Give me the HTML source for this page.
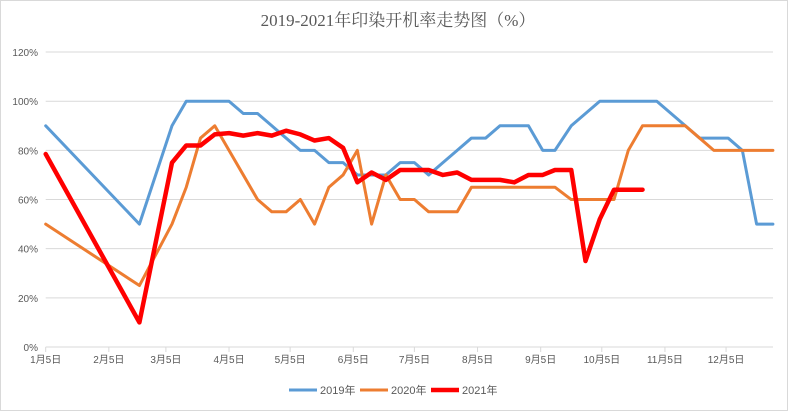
<!DOCTYPE html>
<html><head><meta charset="utf-8"><style>
html,body{margin:0;padding:0;background:#fff;}
svg{display:block;font-family:"Liberation Sans","Noto Sans CJK SC",sans-serif;}
</style></head><body>
<svg id="chart" width="788" height="411" viewBox="0 0 788 411" xmlns="http://www.w3.org/2000/svg">
<rect x="0.5" y="0.5" width="787" height="410" fill="#fff" stroke="#d9d9d9"/>
<text x="398" y="26" text-anchor="middle" font-size="17" fill="#595959" font-family="'Liberation Serif','Noto Serif CJK SC',serif">2019-2021年印染开机率走势图（%）</text>
<g id="grid"></g><g id="axes"></g><g id="series"></g>
<g>
<g><line x1="289" y1="390" x2="317" y2="390" stroke="#5b9bd5" stroke-width="3"/><text x="320" y="394" font-size="11" fill="#595959">2019年</text></g>
<g><line x1="360" y1="390" x2="388" y2="390" stroke="#ed7d31" stroke-width="3"/><text x="391" y="394" font-size="11" fill="#595959">2020年</text></g>
<g><line x1="431" y1="390" x2="459" y2="390" stroke="#ff0000" stroke-width="4.5"/><text x="462" y="394" font-size="11" fill="#595959">2021年</text></g>
</g>
</svg>
<script>
// x: days since Jan 5
const days2019 = [0,46,62,69,90,97,104,111,118,125,132,139,146,153,160,167,174,181,188,195,202,209,216,223,230,237,244,250,258,265,272,300,314,321,335,342,349,357];
const vals2019 = [90,50,90,100,100,95,95,90,85,80,80,75,75,70,70,70,75,75,70,75,80,85,85,90,90,90,80,80,90,95,100,100,90,85,85,80,50,50];
const days2020 = [0,46,62,69,76,83,90,97,104,111,118,125,132,139,146,153,160,167,174,181,188,195,202,209,216,223,230,237,244,250,258,265,272,279,286,293,300,307,314,321,328,335,342,349,357];
const vals2020 = [50,25,50,65,85,90,80,70,60,55,55,60,50,65,70,80,50,70,60,60,55,55,55,65,65,65,65,65,65,65,60,60,60,60,80,90,90,90,90,85,80,80,80,80,80];
const days2021 = [0,46,62,69,76,83,90,97,104,111,118,125,132,139,146,153,160,167,174,181,188,195,202,209,216,223,230,237,244,250,258,265,272,279,286,293];
const vals2021 = [78.5,10,75,82,82,86.5,87,86,87,86,88,86.5,84,85,81,67,71,68,72,72,72,70,71,68,68,68,67,70,70,72,72,35,52,64,64,64];
const yTicks = [0,20,40,60,80,100,120];
const xTickLabels = ["1月5日","2月5日","3月5日","4月5日","5月5日","6月5日","7月5日","8月5日","9月5日","10月5日","11月5日","12月5日"];
const xTickDays = [0,31,59,90,120,151,181,212,243,273,304,334];

const X0=45.7, PXD=2.037, Y0=347, PXV=2.458, XEND=773;
const xs = d => X0 + d*PXD;
const ys = v => Y0 - v*PXV;
const NS="http://www.w3.org/2000/svg";
function mk(tag, attrs, parent){const e=document.createElementNS(NS,tag);for(const k in attrs)e.setAttribute(k,attrs[k]);parent.appendChild(e);return e;}
const grid=document.getElementById('grid'), axes=document.getElementById('axes'), series=document.getElementById('series');
yTicks.forEach(v=>{
  const l=mk('line',{x1:X0,x2:XEND,y1:ys(v),y2:ys(v),stroke:'#d9d9d9','stroke-width':1},grid);
  
  
  const t=mk('text',{x:38,y:ys(v)+4,'text-anchor':'end','font-size':10,fill:'#595959'},axes);
  t.textContent=v+'%';
  
  
});
xTickLabels.forEach((lab,i)=>{
  const x=xs(xTickDays[i]);
  const tk=mk('line',{x1:x,x2:x,y1:Y0,y2:Y0+5,stroke:'#d9d9d9'},axes);
  
  
  const t=mk('text',{x:x,y:Y0+16,'text-anchor':'middle','font-size':10,fill:'#595959'},axes);
  t.textContent=lab;
  
  
});
function line(days,vals,color,w,name){
  const p=mk('polyline',{points:days.map((d,i)=>xs(d)+','+ys(vals[i])).join(' '),fill:'none',stroke:color,'stroke-width':w,'stroke-linejoin':'round','stroke-linecap':'round'},series);
  
  
}
line(days2019,vals2019,'#5b9bd5',3,'series-2019');
line(days2020,vals2020,'#ed7d31',3,'series-2020');
line(days2021,vals2021,'#ff0000',4.5,'series-2021');
</script>
</body></html>
